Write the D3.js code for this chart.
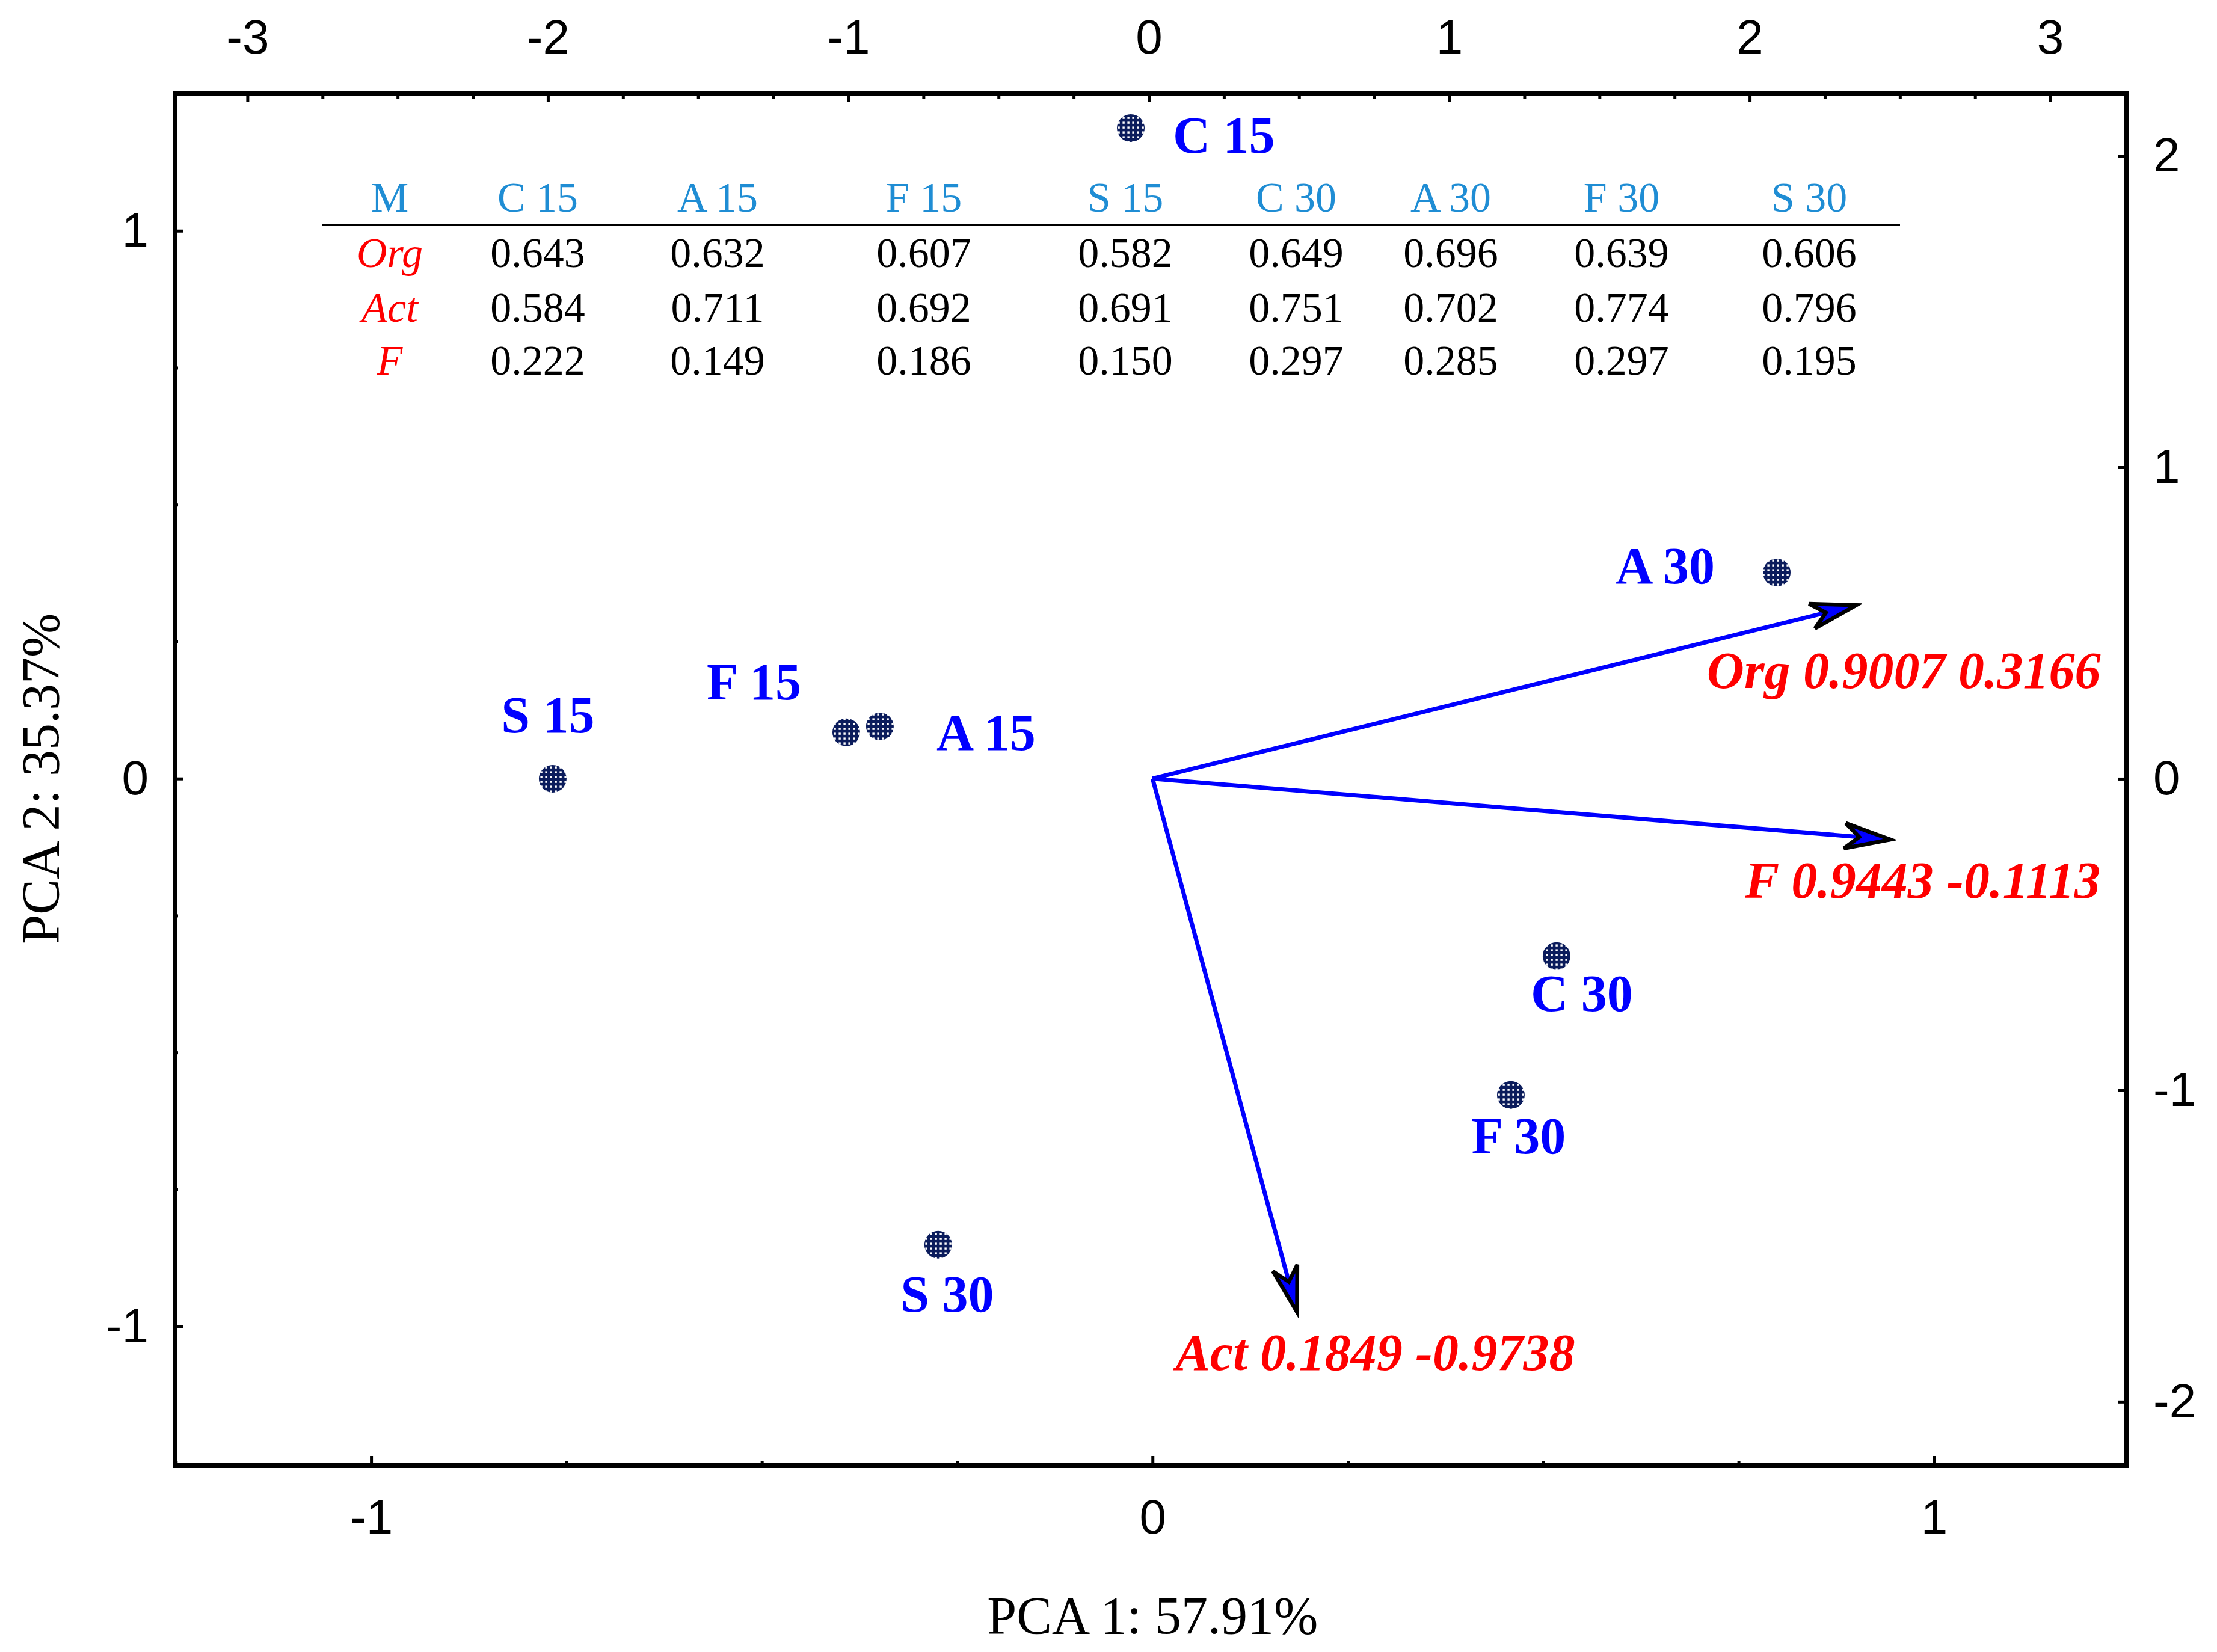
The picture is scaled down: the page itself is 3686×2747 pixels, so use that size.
<!DOCTYPE html>
<html>
<head>
<meta charset="utf-8">
<script src="https://cdn.jsdelivr.net/npm/d3@7"></script>
<style>
  body { margin: 0; background: #fff; }
  svg { display: block; }
</style>
</head>
<body>
<div id="chart"></div>
<script>
// ---------------------------------------------------------------- data
var samples   = ["C 15", "A 15", "F 15", "S 15", "C 30", "A 30", "F 30", "S 30"];
var scorePC1  = [-0.060, -0.895, -1.007, -1.984, 1.357, 2.090, 1.205, -0.701];
var scorePC2  = [ 2.089,  0.168,  0.149,  0.000, -0.569, 0.662, -1.015, -1.496];

var variables = ["Org", "Act", "F"];
var loadPC1   = [0.9007, 0.1849, 0.9443];
var loadPC2   = [0.3166, -0.9738, -0.1113];

// small table drawn inside the plot
var tableHead = ["M"].concat(samples);
var orgValues = [0.643, 0.632, 0.607, 0.582, 0.649, 0.696, 0.639, 0.606];
var actValues = [0.584, 0.711, 0.692, 0.691, 0.751, 0.702, 0.774, 0.796];
var fValues   = [0.222, 0.149, 0.186, 0.150, 0.297, 0.285, 0.297, 0.195];

var loadTicks   = [-1, 0, 1];
var scoreXTicks = [-3, -2, -1, 0, 1, 2, 3];
var scoreYTicks = [-2, -1, 0, 1, 2];

var xTitle = "PCA 1: 57.91%";
var yTitle = "PCA 2: 35.37%";

// ---------------------------------------------------------------- layout
var width = 3686, height = 2747;
var plot = { left: 291, right: 3535, top: 156, bottom: 2437 };
var serif = "'Liberation Serif', 'Times New Roman', serif";
var sans  = "'Liberation Sans', Arial, sans-serif";

// label placement next to each sample point (dx, dy in px, anchor)
var sampleLabelPos = {
  "C 15": [70, 41, "start"],   "A 15": [94, 39, "start"],
  "F 15": [-75, -55, "end"],   "S 15": [-8, -77, "middle"],
  "C 30": [42, 91, "middle"],  "A 30": [-103, 18, "end"],
  "F 30": [13, 97, "middle"],  "S 30": [15, 111, "middle"]
};
// label placement next to each arrow tip
var varLabelPos = { "Org": [406, 138, "end"], "Act": [130, 96, "middle"], "F": [349, 97, "end"] };

var tableColX = [648, 894, 1193, 1536, 1871, 2155, 2412, 2696, 3008];
var tableHeadY = 352, tableRowY = [444, 535, 623], tableRuleY = 374;

// ---------------------------------------------------------------- scales
var xLoad  = d3.scaleLinear().domain([-1.251, 1.246]).range([plot.left, plot.right]);
var yLoad  = d3.scaleLinear().domain([-1.254, 1.250]).range([plot.bottom, plot.top]);
var xScore = d3.scaleLinear().domain([-3.241, 3.253]).range([plot.left, plot.right]);
var yScore = d3.scaleLinear().domain([-2.205, 2.199]).range([plot.bottom, plot.top]);

function quarterTicks(lo, hi) {
  var out = [];
  for (var v = Math.ceil(lo * 4); v <= Math.floor(hi * 4); v++) {
    if (v % 4 !== 0) out.push(v / 4);
  }
  return out;
}

var svg = d3.select("#chart")
  .append("svg")
    .attr("width", width)
    .attr("height", height);

svg.append("rect")
  .attr("width", width).attr("height", height)
  .attr("fill", "#fff");

var defs = svg.append("defs");

// cross-hatched point fill
var pat = defs.append("pattern")
  .attr("id", "hatch")
  .attr("patternUnits", "userSpaceOnUse")
  .attr("width", 8).attr("height", 8);
pat.append("rect").attr("width", 8).attr("height", 8).attr("fill", "#0b1c5c");
pat.append("rect").attr("x", 2.4).attr("y", 2.4).attr("width", 3.4).attr("height", 3.4).attr("fill", "#fff");

defs.append("marker")
  .attr("id", "arrow")
  .attr("viewBox", "-90 -35 100 70")
  .attr("refX", 0).attr("refY", 0)
  .attr("markerWidth", 100).attr("markerHeight", 70)
  .attr("markerUnits", "userSpaceOnUse")
  .attr("orient", "auto")
  .append("path")
    .attr("d", "M0,0 L-76,-21 L-52,0 L-76,21 Z")
    .attr("fill", "#0000ff")
    .attr("stroke", "#000")
    .attr("stroke-width", 6.5)
    .attr("stroke-linejoin", "miter");

///////////////////////////////////////// axes
function styleAxis(g, size) {
  g.select(".domain").remove();
  g.selectAll(".tick line").attr("stroke", "#000").attr("stroke-width", 5);
  g.selectAll(".tick text")
    .attr("fill", "#000")
    .style("font-family", sans)
    .style("font-size", size + "px");
}
var fmt = function(d) { return String(d); };

// bottom: loadings PC1
svg.append("g")
  .attr("transform", "translate(0," + plot.bottom + ")")
  .call(d3.axisBottom(xLoad).tickValues(loadTicks).tickSize(-16).tickPadding(56).tickFormat(fmt))
  .call(styleAxis, 80);
svg.append("g")
  .attr("transform", "translate(0," + plot.bottom + ")")
  .call(d3.axisBottom(xLoad).tickValues(quarterTicks(-1.25, 1.24)).tickSize(-8).tickFormat(""))
  .call(styleAxis, 80);

// left: loadings PC2
svg.append("g")
  .attr("transform", "translate(" + plot.left + ",0)")
  .call(d3.axisLeft(yLoad).tickValues(loadTicks).tickSize(-13).tickPadding(44).tickFormat(fmt))
  .call(styleAxis, 80);
svg.append("g")
  .attr("transform", "translate(" + plot.left + ",0)")
  .call(d3.axisLeft(yLoad).tickValues(quarterTicks(-1.24, 1.24)).tickSize(-5).tickFormat(""))
  .call(styleAxis, 80);

// top: scores PC1
svg.append("g")
  .attr("transform", "translate(0," + plot.top + ")")
  .call(d3.axisTop(xScore).tickValues(scoreXTicks).tickSize(-14).tickPadding(67).tickFormat(fmt))
  .call(styleAxis, 80);
svg.append("g")
  .attr("transform", "translate(0," + plot.top + ")")
  .call(d3.axisTop(xScore).tickValues(quarterTicks(-3.24, 3.24)).tickSize(-9).tickFormat(""))
  .call(styleAxis, 80);

// right: scores PC2
svg.append("g")
  .attr("transform", "translate(" + plot.right + ",0)")
  .call(d3.axisRight(yScore).tickValues(scoreYTicks).tickSize(-13).tickPadding(45).tickFormat(fmt))
  .call(styleAxis, 80);
svg.append("g")
  .attr("transform", "translate(" + plot.right + ",0)")
  .call(d3.axisRight(yScore).tickValues(quarterTicks(-2.2, 2.19)).tickSize(-4).tickFormat(""))
  .call(styleAxis, 80);

// frame
svg.append("rect")
  .attr("x", plot.left).attr("y", plot.top)
  .attr("width", plot.right - plot.left).attr("height", plot.bottom - plot.top)
  .attr("fill", "none").attr("stroke", "#000").attr("stroke-width", 8);

// axis titles
svg.append("text")
  .attr("x", xLoad(0)).attr("y", 2716)
  .attr("text-anchor", "middle")
  .style("font-family", serif).style("font-size", "88px")
  .text(xTitle);

svg.append("text")
  .attr("transform", "translate(97," + yLoad(0) + ") rotate(-90)")
  .attr("text-anchor", "middle")
  .style("font-family", serif).style("font-size", "88px")
  .text(yTitle);

///////////////////////////////////////// table
var table = svg.append("g").style("font-family", serif).style("font-size", "70px");

table.selectAll("text.head")
  .data(tableHead)
  .enter().append("text")
    .attr("class", "head")
    .attr("x", function(d, i) { return tableColX[i]; })
    .attr("y", tableHeadY)
    .attr("text-anchor", "middle")
    .attr("fill", "#1f8dd4")
    .text(function(d) { return d; });

table.append("line")
  .attr("x1", 536).attr("x2", 3159)
  .attr("y1", tableRuleY).attr("y2", tableRuleY)
  .attr("stroke", "#000").attr("stroke-width", 4);

var rows = [orgValues, actValues, fValues];
rows.forEach(function(vals, r) {
  table.append("text")
    .attr("x", tableColX[0]).attr("y", tableRowY[r])
    .attr("text-anchor", "middle")
    .attr("fill", "#ff0000")
    .style("font-style", "italic")
    .text(variables[r]);
  table.selectAll("text.row" + r)
    .data(vals)
    .enter().append("text")
      .attr("class", "row" + r)
      .attr("x", function(d, i) { return tableColX[i + 1]; })
      .attr("y", tableRowY[r])
      .attr("text-anchor", "middle")
      .attr("fill", "#000")
      .text(d3.format(".3f"));
});

///////////////////////////////////////// loading vectors
var vecData = variables.map(function(v, i) { return { name: v, x: loadPC1[i], y: loadPC2[i] }; });

svg.selectAll("line.vec")
  .data(vecData)
  .enter().append("line")
    .attr("class", "vec")
    .attr("x1", xLoad(0)).attr("y1", yLoad(0))
    .attr("x2", function(d) { return xLoad(d.x); })
    .attr("y2", function(d) { return yLoad(d.y); })
    .attr("stroke", "#0000ff")
    .attr("stroke-width", 7)
    .attr("marker-end", "url(#arrow)");

svg.selectAll("text.vec")
  .data(vecData)
  .enter().append("text")
    .attr("class", "vec")
    .attr("x", function(d) { return xLoad(d.x) + varLabelPos[d.name][0]; })
    .attr("y", function(d) { return yLoad(d.y) + varLabelPos[d.name][1]; })
    .attr("text-anchor", function(d) { return varLabelPos[d.name][2]; })
    .attr("fill", "#ff0000")
    .style("font-family", serif).style("font-size", "86px")
    .style("font-weight", "bold").style("font-style", "italic")
    .text(function(d) { return d.name + " " + d.x.toFixed(4) + " " + d.y.toFixed(4); });

///////////////////////////////////////// sample scores
var pts = samples.map(function(s, i) { return { name: s, x: scorePC1[i], y: scorePC2[i] }; });

svg.selectAll("circle.pt")
  .data(pts)
  .enter().append("circle")
    .attr("class", "pt")
    .attr("cx", function(d) { return xScore(d.x); })
    .attr("cy", function(d) { return yScore(d.y); })
    .attr("r", 23)
    .attr("fill", "url(#hatch)");

svg.selectAll("text.pt")
  .data(pts)
  .enter().append("text")
    .attr("class", "pt")
    .attr("x", function(d) { return xScore(d.x) + sampleLabelPos[d.name][0]; })
    .attr("y", function(d) { return yScore(d.y) + sampleLabelPos[d.name][1]; })
    .attr("text-anchor", function(d) { return sampleLabelPos[d.name][2]; })
    .attr("fill", "#0000ff")
    .style("font-family", serif).style("font-size", "86px")
    .style("font-weight", "bold")
    .text(function(d) { return d.name; });
</script>
</body>
</html>
